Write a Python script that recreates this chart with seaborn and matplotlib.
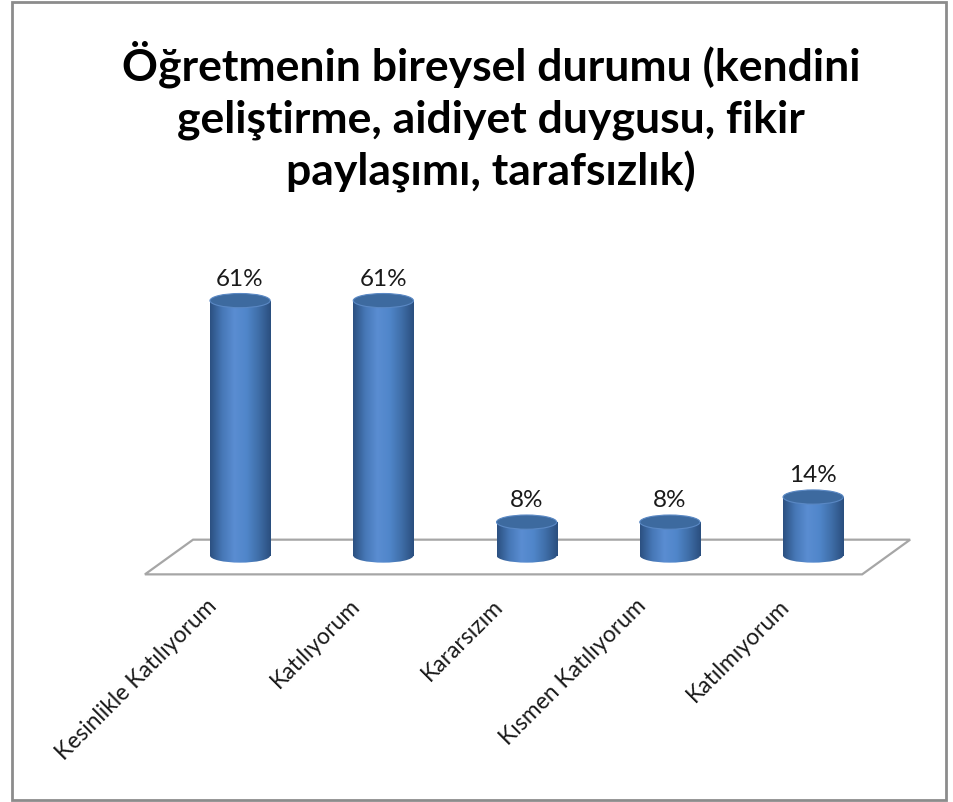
import matplotlib.pyplot as plt
import matplotlib.patches as mpatches
import matplotlib.colors as mcolors
import numpy as np
import pandas as pd
import seaborn as sns

categories = ['Kesinlikle Katılıyorum', 'Katılıyorum', 'Kararsızım', 'Kısmen Katılıyorum', 'Katılmıyorum']
values = [61, 61, 8, 8, 14]
value_labels = ['61%', '61%', '8%', '8%', '14%']
title = 'Öğretmenin bireysel durumu (kendini\ngeliştirme, aidiyet duygusu, fikir\npaylaşımı, tarafsızlık)'

df = pd.DataFrame({'cat': categories, 'val': values})

sns.set_style('white')
plt.rcParams['font.family'] = ['Lato', 'DejaVu Sans']

fig = plt.figure(figsize=(9.54, 8.02), dpi=100)
ax = fig.add_axes([0.139, 0.2656, 0.826, 0.4065])

bw = 0.42
ell_h = 3.4
sns.barplot(data=df, x='cat', y='val', color='#4F81BD', width=bw, ax=ax, zorder=3)

# floor of the 3d plot
floor = mpatches.Polygon([(-0.664, -4.5), (-0.328, 3.8), (4.677, 3.8), (4.342, -4.5)],
                         closed=True, facecolor='white', edgecolor='#A6A6A6', lw=1.6, zorder=1)
ax.add_patch(floor)

# cylinder shading
grad = np.linspace(0, 1, 256).reshape(1, -1)
cmap = mcolors.LinearSegmentedColormap.from_list(
    'cyl', ['#2B5080', '#4677B6', '#5A8DD2', '#5086CA', '#3F6EA8', '#2A4E7E'])

for i, p in enumerate(list(ax.patches)[:len(values)]):
    x0, w, h = p.get_x(), p.get_width(), p.get_height()
    p.set_facecolor('none')
    p.set_edgecolor('none')
    bot = mpatches.Ellipse((x0 + w / 2, 0), w, ell_h, facecolor='none', edgecolor='none')
    ax.add_patch(bot)
    for clip in (p, bot):
        im = ax.imshow(grad, cmap=cmap, extent=(x0, x0 + w, -ell_h, h), aspect='auto',
                       zorder=3, interpolation='bicubic')
        im.set_clip_path(clip)
    top = mpatches.Ellipse((x0 + w / 2, h), w, ell_h, angle=0, facecolor='#3D6A9F',
                           edgecolor='#5A88C4', lw=0.8, zorder=4)
    ax.add_patch(top)
    ax.text(x0 + w / 2, h + 2.6, value_labels[i], ha='center', va='bottom',
            fontsize=17.5, color='#1A1A1A')
    ax.text(i - 0.24, -9.5, categories[i], rotation=45, rotation_mode='anchor',
            ha='right', va='top', fontsize=16.5, color='#1A1A1A')

ax.set_xlim(-0.75, 4.75)
ax.set_ylim(-8, 70)
ax.axis('off')

fig.text(0.515, 0.854, title, ha='center', va='center', fontsize=32,
         fontweight='bold', linespacing=1.33, color='black')

frame = mpatches.Rectangle((12 / 954, 2 / 802), (946 - 12) / 954, (800 - 2) / 802,
                           transform=fig.transFigure, fill=False, edgecolor='#8C8C8C', lw=2)
fig.add_artist(frame)

fig.savefig('out.png', dpi=100)
